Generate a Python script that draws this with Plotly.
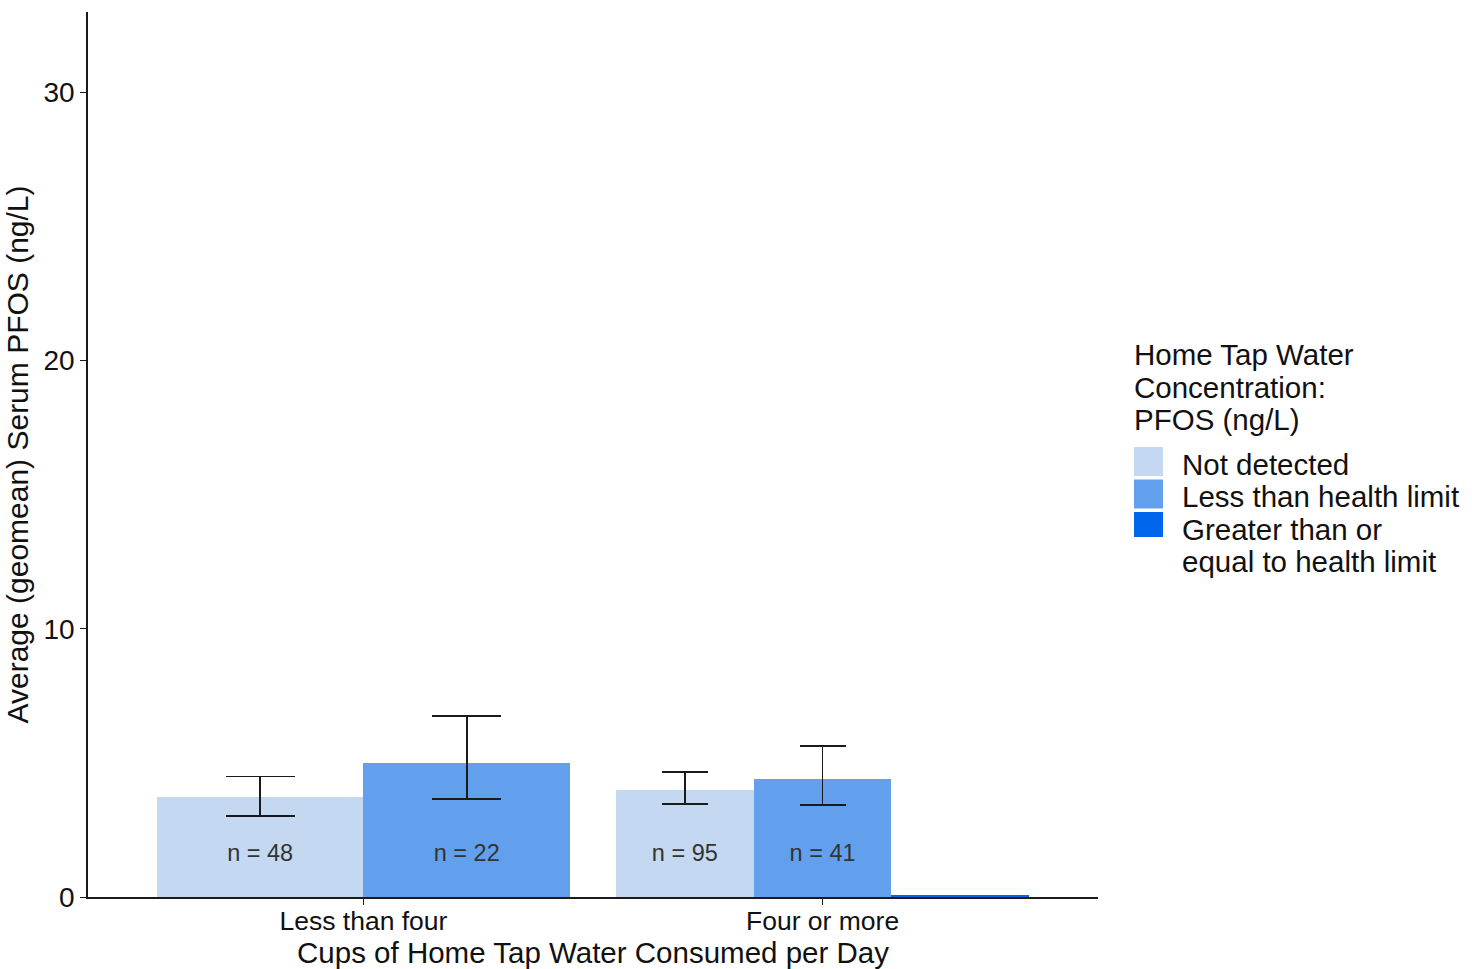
import plotly.graph_objects as go

# Cups-per-day groups and water-concentration series
groups = ["Less than four", "Four or more"]
series = ["Not detected", "Less than health limit", "Greater than or\nequal to health limit"]
colors = ["#c4d9f1", "#62a0ed", "#0066eb"]

# Geometric mean serum PFOS (ng/L) with 95% CI, one row per group
geomean = [[3.72, 4.99, None], [3.99, 4.40, 0.04]]
ci_low = [[3.02, 3.66, None], [3.47, 3.44, None]]
ci_high = [[4.49, 6.75, None], [4.66, 5.64, None]]
n_obs = [[48, 22, None], [95, 41, None]]

y_ticks = [0, 10, 20, 30]
y_max = 33.0
x_range = [0.4, 2.6]
dodge = 0.9

FONT = "Liberation Sans, Arial, sans-serif"
W, H = 1472, 969
L_M, R_M, T_M, B_M = 88, 374, 12, 72
plot_w = W - L_M - R_M
plot_h = H - T_M - B_M
px_per_x = plot_w / (x_range[1] - x_range[0])

fig = go.Figure()

label_x, label_y, label_txt = [], [], []
for gi, g in enumerate(groups):
    present = [si for si in range(len(series)) if geomean[gi][si] is not None]
    k = len(present)
    w = dodge / k
    for j, si in enumerate(present):
        xc = (gi + 1) + (j - (k - 1) / 2) * w
        val = geomean[gi][si]
        err = None
        if ci_low[gi][si] is not None:
            err = dict(
                type="data", symmetric=False,
                array=[ci_high[gi][si] - val],
                arrayminus=[val - ci_low[gi][si]],
                color="#1a1a1a", thickness=1.8,
                width=w / 3 * px_per_x / 2,
            )
        fig.add_trace(go.Bar(
            x=[xc], y=[val], width=[w],
            marker=dict(color=colors[si], line=dict(width=0)),
            error_y=err, showlegend=False, name=series[si].replace("\n", " "),
        ))
        if n_obs[gi][si] is not None:
            label_x.append(xc)
            label_y.append(1.58)
            label_txt.append(f"n = {n_obs[gi][si]}")

fig.add_trace(go.Scatter(
    x=label_x, y=label_y, text=label_txt, mode="text",
    textfont=dict(family=FONT, size=23.5, color="#333333"),
    showlegend=False, hoverinfo="skip",
))

# Legend drawn as large key swatches beside the panel
def px_to_paper_x(px):
    return (px - L_M) / plot_w

def px_to_paper_y(py):
    return (H - B_M - py) / plot_h

legend_title = ["Home Tap Water", "Concentration:", "PFOS (ng/L)"]
for i, line in enumerate(legend_title):
    fig.add_annotation(
        x=px_to_paper_x(1132), y=px_to_paper_y(355 + 32 * i), xref="paper", yref="paper",
        text=line, showarrow=False, xanchor="left", yanchor="middle",
        font=dict(family=FONT, size=29.5, color="#111111"),
    )

key_top = [447, 479.5, 512]
for si, name in enumerate(series):
    y0 = key_top[si]
    fig.add_shape(
        type="rect", xref="paper", yref="paper",
        x0=px_to_paper_x(1134), x1=px_to_paper_x(1163),
        y0=px_to_paper_y(y0), y1=px_to_paper_y(y0 + 29 if si < 2 else y0 + 25),
        fillcolor=colors[si], line=dict(width=0),
    )
    for li, part in enumerate(name.split("\n")):
        fig.add_annotation(
            x=px_to_paper_x(1180), y=px_to_paper_y(y0 + 17 + 32 * li), xref="paper", yref="paper",
            text=part, showarrow=False, xanchor="left", yanchor="middle",
            font=dict(family=FONT, size=29.5, color="#111111"),
        )

fig.update_layout(
    width=W, height=H,
    margin=dict(l=L_M, r=R_M, t=T_M, b=B_M),
    plot_bgcolor="white", paper_bgcolor="white",
    barmode="overlay", bargap=0,
    font=dict(family=FONT, color="#111111"),
    showlegend=False,
)
fig.update_xaxes(
    range=x_range, tickmode="array", tickvals=[1, 2], ticktext=groups,
    showgrid=False, zeroline=False, automargin=False,
    showline=True, linecolor="#1a1a1a", linewidth=1.6,
    ticks="outside", ticklen=6, tickwidth=1.4, tickcolor="#1a1a1a",
    ticklabelstandoff=-7,
    tickfont=dict(family=FONT, size=26.5, color="#111111"),
    title=dict(text="Cups of Home Tap Water Consumed per Day",
               font=dict(family=FONT, size=29.5, color="#111111"), standoff=8),
)
fig.update_yaxes(
    range=[0, y_max], tickmode="array", tickvals=y_ticks,
    showgrid=False, zeroline=False, automargin=False,
    showline=True, linecolor="#1a1a1a", linewidth=1.6,
    ticks="outside", ticklen=6, tickwidth=1.4, tickcolor="#1a1a1a",
    tickfont=dict(family=FONT, size=28, color="#111111"),
    title=dict(text="Average (geomean) Serum PFOS (ng/L)",
               font=dict(family=FONT, size=30, color="#111111"), standoff=6),
)

fig.write_html("out.html")
